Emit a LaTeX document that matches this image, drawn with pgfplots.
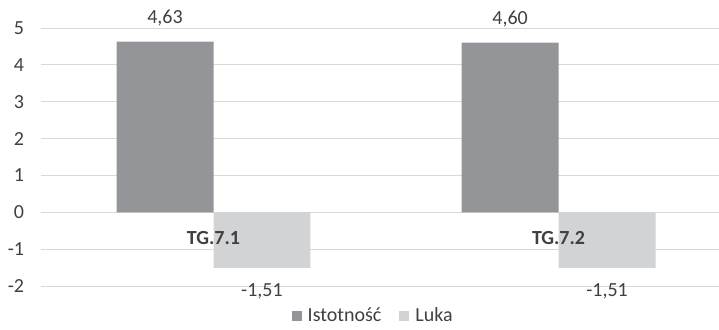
\documentclass[border=0pt]{standalone}
\usepackage{fontspec}
\setmainfont{Carlito}
\usepackage{pgfplots}
\pgfplotsset{compat=1.18}
\definecolor{cDark}{HTML}{939598}
\definecolor{cLight}{HTML}{D1D3D4}
\definecolor{cGrid}{HTML}{D9D9D9}
\definecolor{cText}{HTML}{404040}
\newcommand{\cf}{\fontsize{20pt}{23pt}\selectfont}
\begin{document}
\begin{tikzpicture}
\cf
\begin{axis}[
  at={(0,0)}, anchor=south west,
  scale only axis, width=678pt, height=258pt,
  xmin=-0.5, xmax=1.465, ymin=-2, ymax=5,
  ytick={-2,-1,0,1,2,3,4,5},
  xtick=\empty,
  ymajorgrids, major grid style={color=cGrid, line width=1pt},
  axis line style={draw=none}, tick style={draw=none},
  /pgf/number format/assume math mode=true,
  ticklabel style={font=\cf, text=cText},
  yticklabel style={xshift=-10pt},
  ybar, bar width=0.281, bar shift=0pt,
  nodes near coords,
  every node near coord/.style={font=\cf, text=cText, inner ysep=15pt,
     /pgf/number format/.cd, fixed, fixed zerofill, precision=2, use comma, assume math mode=true},
  legend columns=2,
  legend style={draw=none, at={(0.49,-0.118)}, anchor=center, font=\cf,
     text=cText, inner xsep=0pt, inner ysep=0pt,
     /tikz/every odd column/.append style={column sep=4pt},
     /tikz/every even column/.append style={column sep=16pt},
     nodes={inner xsep=2pt, inner ysep=1pt}},
  legend image code/.code={\fill[#1] (0pt,-5pt) rectangle (10pt,5pt);},
  clip=false,
]
\addplot[fill=cDark, draw=none] coordinates {(-0.1405,4.63) (0.8595,4.60)};
\addlegendentry{Istotność}
\addplot[fill=cLight, draw=none] coordinates {(0.1405,-1.51) (1.1405,-1.51)};
\addlegendentry{Luka}
\node[font=\bfseries\cf, text=cText] at (axis cs:0,-0.7) {TG.7.1};
\node[font=\bfseries\cf, text=cText] at (axis cs:1,-0.7) {TG.7.2};
\end{axis}
\pgfresetboundingbox
\path[use as bounding box] (-41pt,-43pt) rectangle (678pt,286pt);
\end{tikzpicture}
\end{document}
